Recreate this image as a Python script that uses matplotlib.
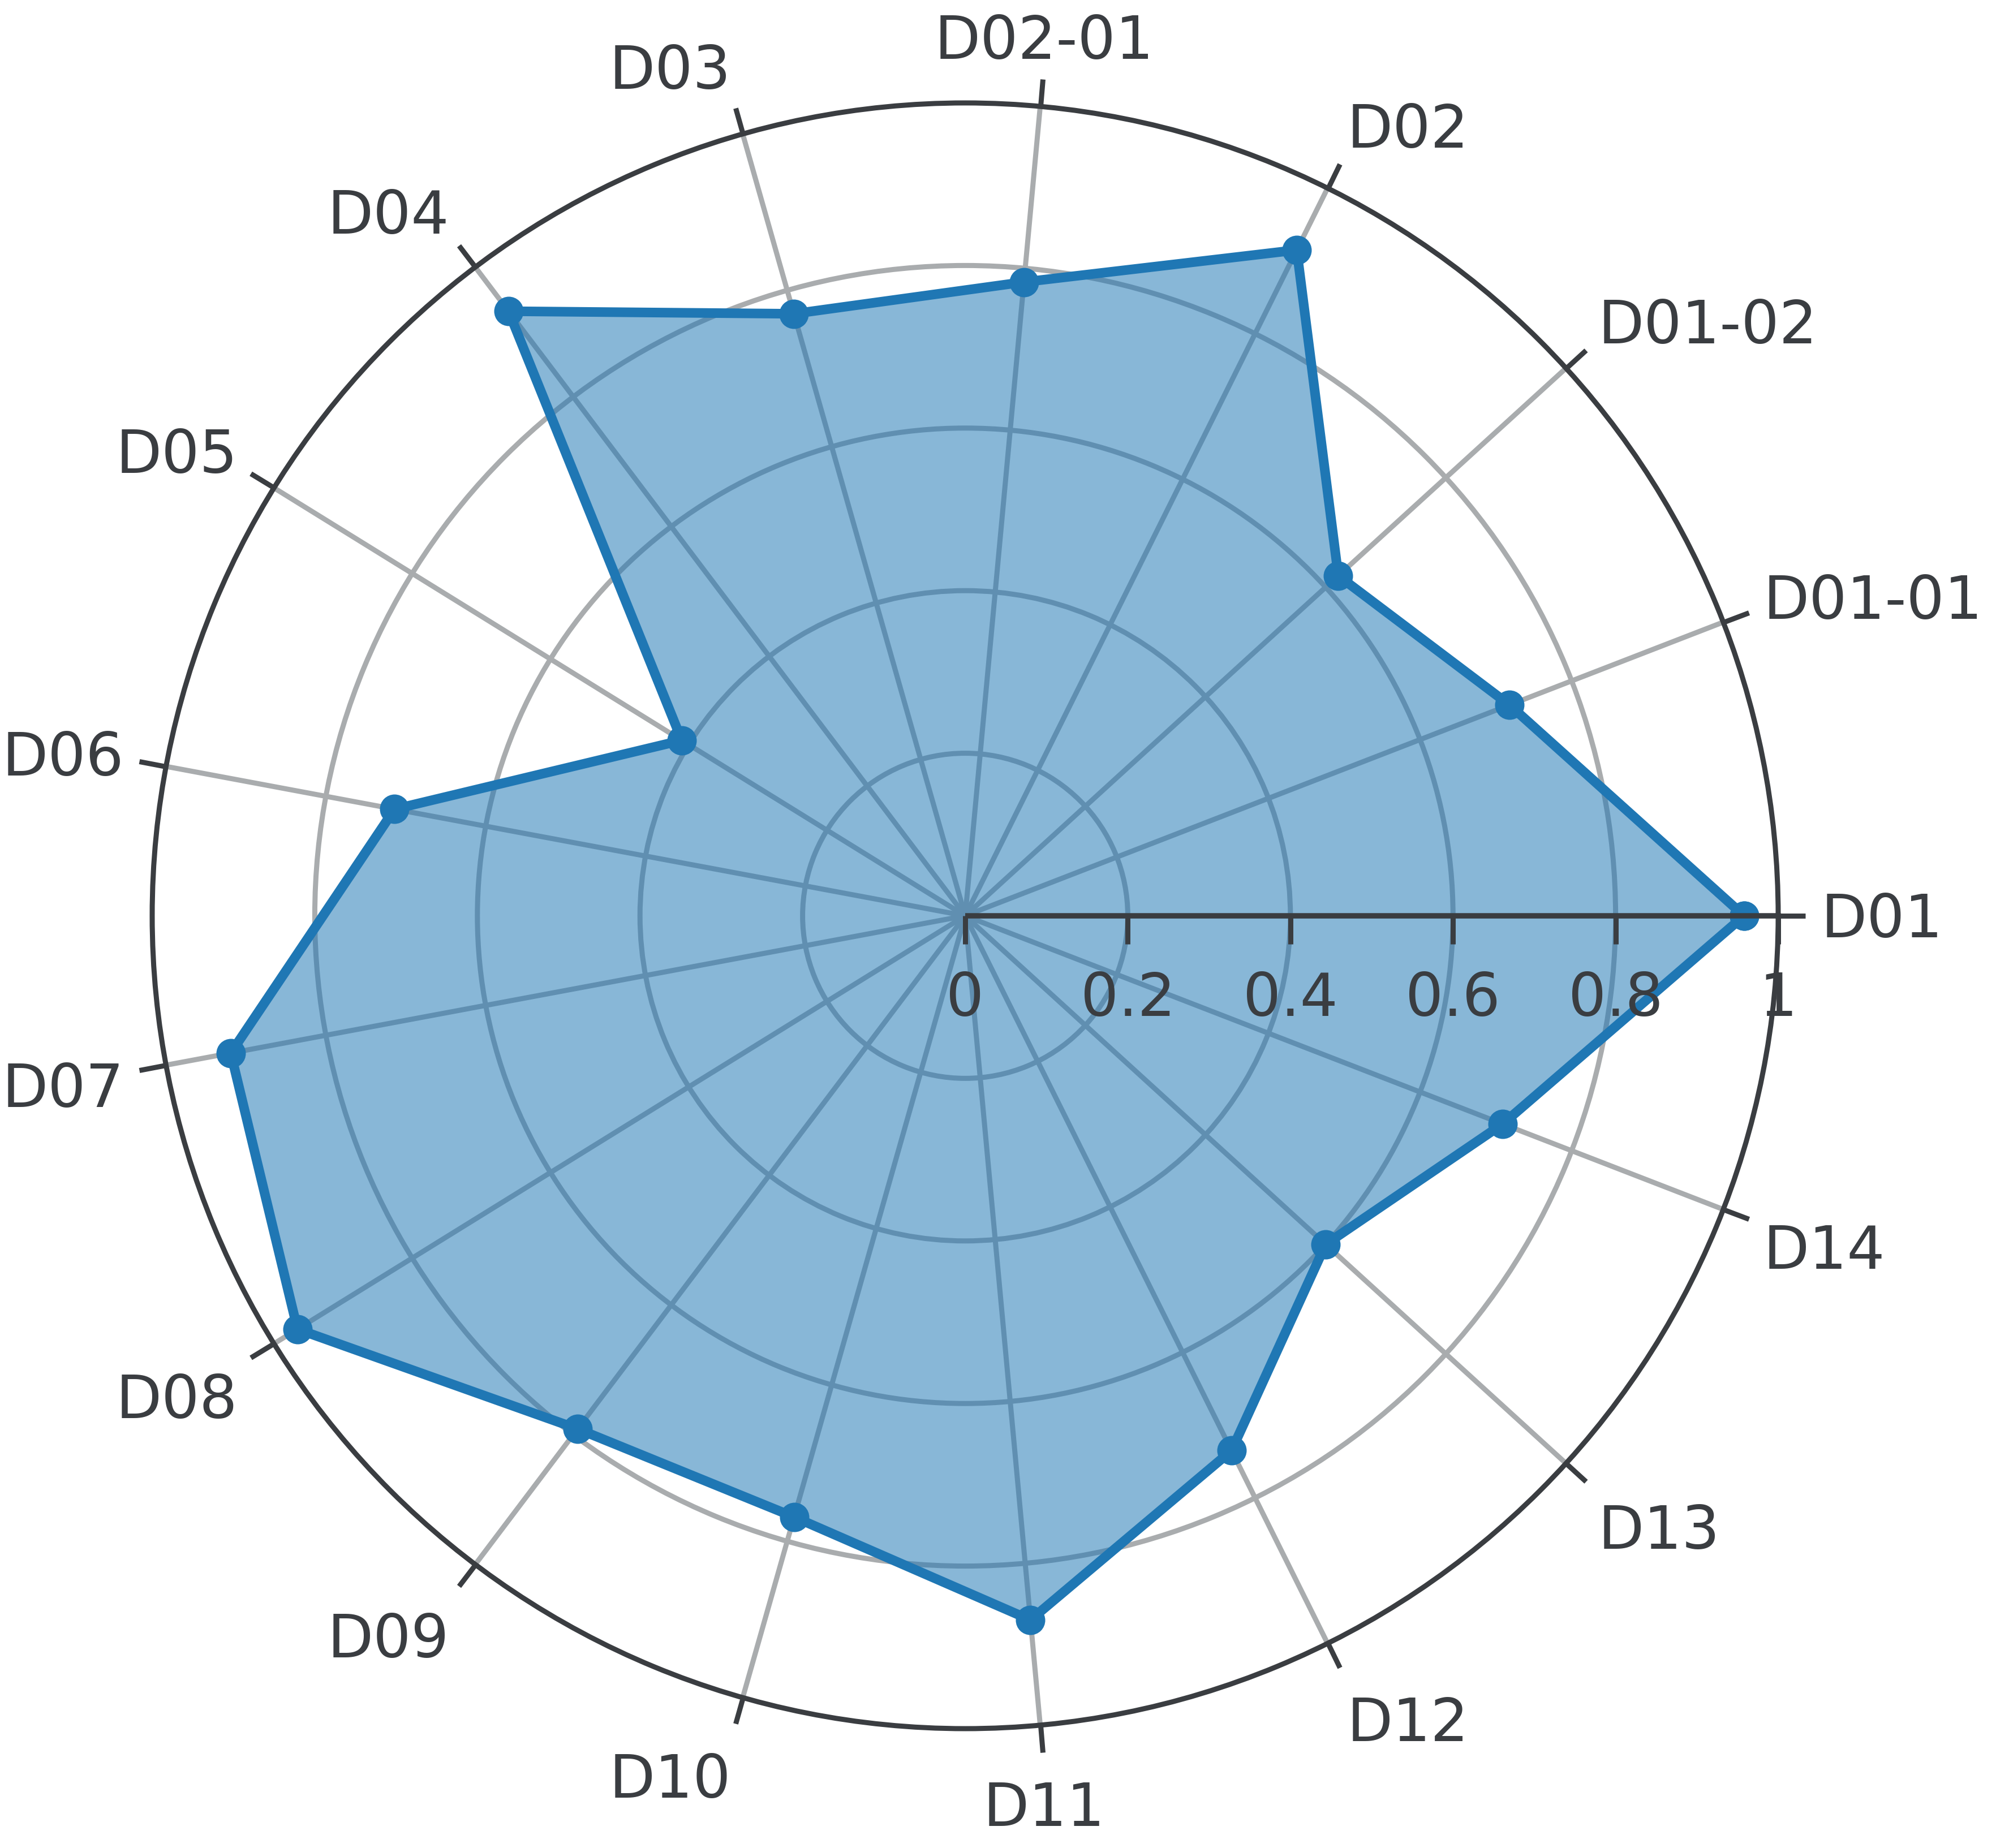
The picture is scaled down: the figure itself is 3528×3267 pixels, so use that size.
import numpy as np
import matplotlib.pyplot as plt
from matplotlib.path import Path

categories = ['D01', 'D01-01', 'D01-02', 'D02', 'D02-01', 'D03', 'D04', 'D05', 'D06',
              'D07', 'D08', 'D09', 'D10', 'D11', 'D12', 'D13', 'D14']
values = [0.958, 0.718, 0.621, 0.915, 0.783, 0.770, 0.932, 0.410, 0.714,
          0.919, 0.966, 0.791, 0.769, 0.870, 0.735, 0.600, 0.709]
r_ticks = [0, 0.2, 0.4, 0.6, 0.8, 1]
r_tick_labels = ['0', '0.2', '0.4', '0.6', '0.8', '1']

DARK = '#3a3d41'
GRID = '#a9acae'
BLUE = '#1f77b4'
PX = 0.72  # points per pixel at dpi 100

fig = plt.figure(figsize=(35.28, 32.67), dpi=100)
ax = fig.add_axes([0.07625, 0.06459, 0.81463, 0.87971], projection='polar')

n = len(categories)
theta = np.arange(n) * 2 * np.pi / n
theta_c = np.append(theta, theta[0])
vals_c = np.append(values, values[0])

ax.set_ylim(0, 1)
ax.set_xticks(theta)
ax.set_xticklabels([])
ax.set_yticks([0.2, 0.4, 0.6, 0.8])
ax.set_yticklabels([])
ax.tick_params(axis='y', length=0)
# angular ticks on the outer circle, pointing outwards
ax.tick_params(axis='x', which='major', bottom=False, top=True, direction='out',
               length=48 * PX, width=9 * PX, colors=DARK)
ax.set_axisbelow(True)
ax.grid(True, color=GRID, linewidth=9 * PX)
ax.spines['polar'].set_color(DARK)
ax.spines['polar'].set_linewidth(9 * PX)

# data
ax.fill(theta_c, vals_c, color=BLUE, alpha=0.53, lw=0, zorder=2)
ax.plot(theta_c, vals_c, color=BLUE, lw=17 * PX, solid_joinstyle='round',
        marker='o', ms=52 * PX, mew=0, zorder=3)

# radial axis line and ticks
ax.plot([0, 0], [0, 1], color=DARK, lw=9.5 * PX, solid_capstyle='butt', zorder=4, clip_on=False)
tick_marker = Path([(0, 0), (0, -1)], [Path.MOVETO, Path.LINETO])
ax.plot(np.zeros(len(r_ticks)), r_ticks, linestyle='none', marker=tick_marker,
        ms=2 * 50 * PX, mew=9 * PX, color=DARK, zorder=4, clip_on=False)

FS = 76
CAP = 77
for r, lab in zip(r_ticks, r_tick_labels):
    ax.annotate(lab, xy=(0, r), xytext=(0, -(139 + CAP / 2)), textcoords='offset pixels',
                ha='center', va='baseline', fontsize=FS, color=DARK,
                annotation_clip=False, zorder=5)

# angular labels
TL = 48
PAD = 28
for t, lab in zip(theta, categories):
    c, s = np.cos(t), np.sin(t)
    if s >= 0:
        center_down = -75 * s
    else:
        center_down = 92 * np.sin(abs(s) * np.pi / 2)
    dx = (TL + PAD) * c
    dy = TL * s - center_down - CAP / 2
    if c > 0.1:
        ha = 'left'
    elif c < -0.1:
        ha = 'right'
    else:
        ha = 'center'
    ax.annotate(lab, xy=(t, 1), xytext=(dx, dy), textcoords='offset pixels',
                ha=ha, va='baseline', fontsize=FS, color=DARK, annotation_clip=False)

fig.savefig('out.png', dpi=100, facecolor='white')
